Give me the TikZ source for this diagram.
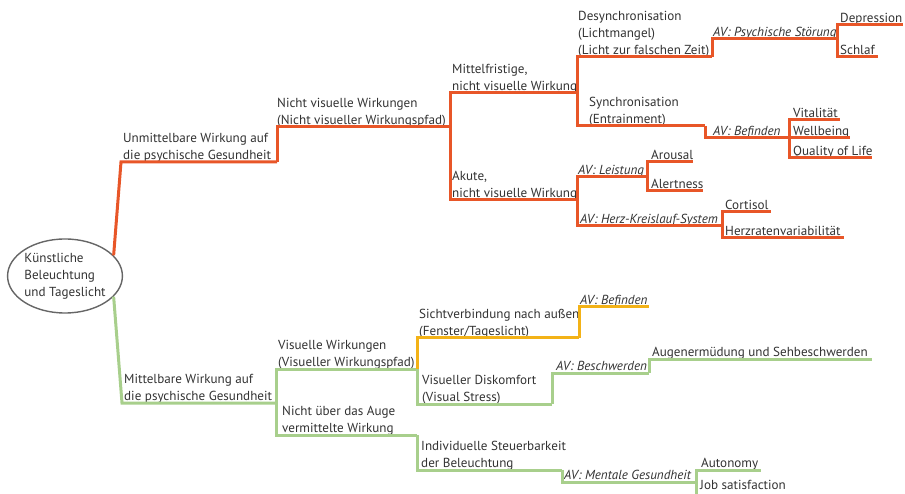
\documentclass[tikz,border=0pt]{standalone}
\usepackage{fontspec}
\setmainfont{PT Sans}
\usepackage{tikz}
\usetikzlibrary{shapes.geometric}
\definecolor{rot}{RGB}{232,86,40}
\definecolor{gruen}{RGB}{168,207,140}
\definecolor{gelb}{RGB}{243,178,23}
\definecolor{schrift}{RGB}{50,50,50}

\begin{document}
\begin{tikzpicture}[x=1pt, y=-1pt,
    every node/.style={font=\fontsize{13.1}{17}\selectfont, text=schrift},
    lbl/.style={anchor=south west, align=left, inner xsep=2pt, inner ysep=0pt, yshift=-2.5pt, execute at end node=\strut},
    av/.style={lbl, font=\fontsize{13.1}{17}\selectfont\itshape},
    ast/.style={line width=3pt}]
  \useasboundingbox (0,0) rectangle (905,494);

  % Wurzel
  \node[ellipse, draw=black!60, line width=1.4pt, minimum width=114pt, minimum height=74pt, inner sep=0pt, align=left] (root) at (65,276) {Künstliche\\Beleuchtung\\und Tageslicht};

  % unmittelbare Wirkung
  \node[lbl] (u) at (121,162) {Unmittelbare Wirkung auf\\die psychische Gesundheit};
  \coordinate (u-e) at (277,162);
  \node[lbl] (nv) at (275,127) {Nicht visuelle Wirkungen\\(Nicht visueller Wirkungspfad)};
  \coordinate (nv-e) at (450,127);
  \node[lbl] (mf) at (450,93) {Mittelfristige,\\nicht visuelle Wirkung};
  \coordinate (mf-e) at (577,93);
  \node[lbl] (ds) at (576,57) {Desynchronisation\\(Lichtmangel)\\(Licht zur falschen Zeit)};
  \coordinate (ds-e) at (712,57);
  \node[av] (ps) at (711,39) {AV: Psychische Störung};
  \coordinate (ps-e) at (837,39);
  \node[lbl] (dep) at (838,25) {Depression};
  \coordinate (dep-e) at (903,25);
  \node[lbl] (sch) at (838,57) {Schlaf};
  \coordinate (sch-e) at (878,57);
  \node[lbl] (sy) at (587,126) {Synchronisation\\(Entrainment)};
  \coordinate (sy-e) at (705,126);
  \node[av] (bf) at (711,138) {AV: Befinden};
  \coordinate (bf-e) at (789,138);
  \node[lbl] (vit) at (791,120) {Vitalität};
  \coordinate (vit-e) at (840,120);
  \node[lbl] (wb) at (791,138) {Wellbeing};
  \coordinate (wb-e) at (850,138);
  \node[lbl] (qol) at (791,158) {Quality of Life};
  \coordinate (qol-e) at (872,158);
  \node[lbl] (ak) at (450,200) {Akute,\\nicht visuelle Wirkung};
  \coordinate (ak-e) at (577,200);
  \node[av] (le) at (576,177) {AV: Leistung};
  \coordinate (le-e) at (647,177);
  \node[lbl] (ar) at (649,162) {Arousal};
  \coordinate (ar-e) at (693,162);
  \node[lbl] (al) at (649,191) {Alertness};
  \coordinate (al-e) at (703,191);
  \node[av] (hk) at (578,226) {AV: Herz-Kreislauf-System};
  \coordinate (hk-e) at (722,226);
  \node[lbl] (co) at (723,212) {Cortisol};
  \coordinate (co-e) at (771,212);
  \node[lbl] (hr) at (723,238) {Herzratenvariabilität};
  \coordinate (hr-e) at (844,238);

  \draw[ast, rot] (root.23) -- (u.south west |- u-e) -- (u-e);
  \draw[ast, rot] (u-e) |- (nv-e);
  \draw[ast, rot] (nv-e) |- (mf-e);
  \draw[ast, rot] (nv-e) |- (ak-e);
  \draw[ast, rot] (mf-e) |- (ds-e);
  \draw[ast, rot] (mf-e) |- (sy-e);
  \draw[ast, rot] (ds-e) |- (ps-e);
  \draw[ast, rot] (ps-e) |- (dep-e);
  \draw[ast, rot] (ps-e) |- (sch-e);
  \draw[ast, rot] (sy-e) |- (bf-e);
  \draw[ast, rot] (bf-e) |- (vit-e);
  \draw[ast, rot] (bf-e) |- (wb-e);
  \draw[ast, rot] (bf-e) |- (qol-e);
  \draw[ast, rot] (ak-e) |- (le-e);
  \draw[ast, rot] (ak-e) |- (hk-e);
  \draw[ast, rot] (le-e) |- (ar-e);
  \draw[ast, rot] (le-e) |- (al-e);
  \draw[ast, rot] (hk-e) |- (co-e);
  \draw[ast, rot] (hk-e) |- (hr-e);

  % mittelbare Wirkung
  \node[lbl] (m) at (122,403) {Mittelbare Wirkung auf\\die psychische Gesundheit};
  \coordinate (m-e) at (276,403);
  \node[lbl] (vw) at (276,369) {Visuelle Wirkungen\\(Visueller Wirkungspfad)};
  \coordinate (vw-e) at (417,369);
  \node[lbl] (na) at (280,435) {Nicht über das Auge\\vermittelte Wirkung};
  \coordinate (na-e) at (417,435);
  \node[lbl] (sv) at (417,338) {Sichtverbindung nach außen\\(Fenster/Tageslicht)};
  \coordinate (sv-e) at (579,338);
  \node[av] (bf2) at (578,307) {AV: Befinden};
  \coordinate (bf2-e) at (649,307);
  \node[lbl] (vd) at (420,404) {Visueller Diskomfort\\(Visual Stress)};
  \coordinate (vd-e) at (552,404);
  \node[av] (bs) at (554,373) {AV: Beschwerden};
  \coordinate (bs-e) at (649,373);
  \node[lbl] (au) at (650,359) {Augenermüdung und Sehbeschwerden};
  \coordinate (au-e) at (872,359);
  \node[lbl] (is) at (419,470) {Individuelle Steuerbarkeit\\der Beleuchtung};
  \coordinate (is-e) at (562,470);
  \node[av] (mg) at (562,482) {AV: Mentale Gesundheit};
  \coordinate (mg-e) at (696,482);
  \node[lbl] (at) at (699,470) {Autonomy};
  \coordinate (at-e) at (761,470);
  \node[lbl, execute at end node={}] (js) at (698,492) {Job satisfaction};
  \coordinate (js-e) at (780,497);

  \draw[ast, gruen] (root.-23) -- (m.south west |- m-e) -- (m-e);
  \draw[ast, gruen] (m-e) |- (vw-e);
  \draw[ast, gruen] (m-e) |- (na-e);
  \draw[ast, gelb] (vw-e) |- (sv-e);
  \draw[ast, gelb] (sv-e) |- (bf2-e);
  \draw[ast, gruen] (vw-e) |- (vd-e);
  \draw[ast, gruen] (vd-e) |- (bs-e);
  \draw[ast, gruen] (bs-e) |- (au-e);
  \draw[ast, gruen] (na-e) |- (is-e);
  \draw[ast, gruen] (is-e) |- (mg-e);
  \draw[ast, gruen] (mg-e) |- (at-e);
  \draw[ast, gruen] (mg-e) |- (js-e);
\end{tikzpicture}
\end{document}
